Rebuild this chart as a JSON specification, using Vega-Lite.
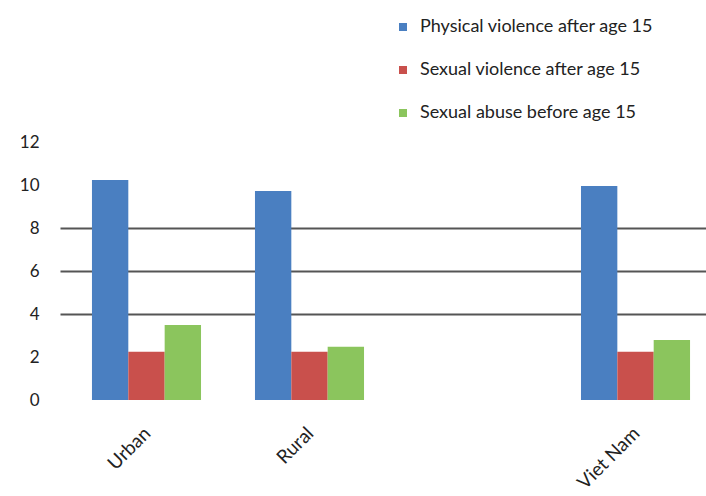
{
  "$schema": "https://vega.github.io/schema/vega-lite/v6.json",
  "width": 646,
  "height": 258,
  "autosize": "none",
  "padding": {"left": 60, "top": 142, "right": 0, "bottom": 96},
  "background": "white",
  "config": {
    "view": {"stroke": null},
    "font": "Lato",
    "axis": {"labelFont": "Lato", "labelColor": "#222", "labelFontSize": 17}
  },
  "data": {
    "values": [
      {"area": "Urban", "series": "Physical violence after age 15", "value": 10.23},
      {"area": "Urban", "series": "Sexual violence after age 15", "value": 2.25},
      {"area": "Urban", "series": "Sexual abuse before age 15", "value": 3.49},
      {"area": "Rural", "series": "Physical violence after age 15", "value": 9.72},
      {"area": "Rural", "series": "Sexual violence after age 15", "value": 2.25},
      {"area": "Rural", "series": "Sexual abuse before age 15", "value": 2.48},
      {"area": "Viet Nam", "series": "Physical violence after age 15", "value": 9.95},
      {"area": "Viet Nam", "series": "Sexual violence after age 15", "value": 2.25},
      {"area": "Viet Nam", "series": "Sexual abuse before age 15", "value": 2.79}
    ]
  },
  "mark": {"type": "bar"},
  "encoding": {
    "x": {
      "field": "area",
      "type": "nominal",
      "title": null,
      "sort": null,
      "scale": {"domain": ["Urban", "Rural", " ", "Viet Nam"], "paddingInner": 0.331, "paddingOuter": 0.147, "align": 0.667},
      "axis": {"labelAngle": -45, "labelFontSize": 19, "domain": false, "ticks": false, "labelPadding": 30, "grid": false, "labelAlign": "right", "labelBaseline": "middle", "labelOffset": 1}
    },
    "xOffset": {
      "field": "series",
      "type": "nominal",
      "sort": ["Physical violence after age 15", "Sexual violence after age 15", "Sexual abuse before age 15"],
      "scale": {"paddingInner": 0, "paddingOuter": 0}
    },
    "y": {
      "field": "value",
      "type": "quantitative",
      "title": null,
      "scale": {"domain": [0, 12], "nice": false},
      "axis": {
        "values": [0, 2, 4, 6, 8, 10, 12],
        "domain": false,
        "ticks": false,
        "labelPadding": 21,
        "grid": true,
        "gridColor": "#555",
        "gridWidth": 2,
        "gridOpacity": {"condition": {"test": "datum.value >= 4 && datum.value <= 8", "value": 1}, "value": 0}
      }
    },
    "color": {
      "field": "series",
      "type": "nominal",
      "sort": ["Physical violence after age 15", "Sexual violence after age 15", "Sexual abuse before age 15"],
      "scale": {"range": ["#4a7fc1", "#c9504c", "#8bc55d"]},
      "legend": {
        "title": null,
        "orient": "none",
        "legendX": 334,
        "legendY": -124,
        "symbolType": "square",
        "symbolSize": 64,
        "labelFontSize": 18,
        "labelFont": "Lato",
        "labelColor": "#222",
        "labelLimit": 0,
        "rowPadding": 25,
        "labelOffset": 8
      }
    }
  }
}
